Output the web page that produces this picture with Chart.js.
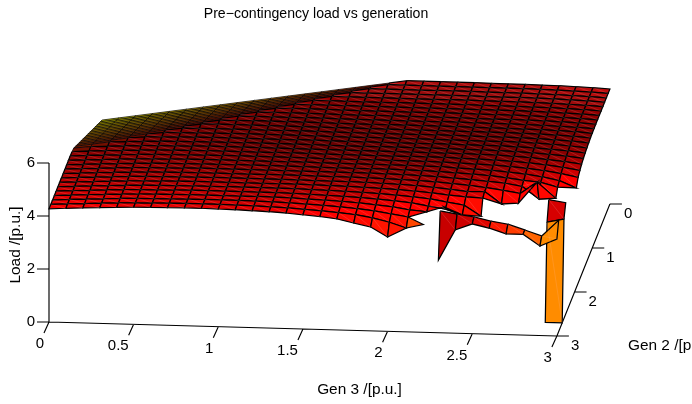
<!DOCTYPE html>
<html><head><meta charset="utf-8">
<style>html,body{margin:0;padding:0;background:#fff}canvas{display:block}</style>
<script src="https://cdn.jsdelivr.net/npm/chart.js@4"></script></head>
<body><canvas id="c" width="692" height="404"></canvas>
<script>
const chartTitle = "Pre\u2212contingency load vs generation";
const gen3Values = [0,0.1,0.2,0.3,0.4,0.5,0.6,0.7,0.8,0.9,1,1.1,1.2,1.3,1.4,1.5,1.6,1.7,1.8,1.9,2,2.1,2.2,2.3,2.4,2.5,2.6,2.7,2.8,2.9,3];
const gen2Values = [0,0.1,0.2,0.3,0.4,0.5,0.6,0.7,0.8,0.9,1,1.1,1.2,1.3,1.4,1.5,1.6,1.7,1.8,1.9,2,2.1,2.2,2.3,2.4,2.5,2.6,2.7,2.8,2.9,3];
const gen3Ticks = [0,0.5,1,1.5,2,2.5,3];
const gen2Ticks = [0,1,2,3];
const loadTicks = [0,2,4,6];
const gen3Label = "Gen 3 /[p.u.]", gen2Label = "Gen 2 /[p.u.]", loadLabel = "Load /[p.u.]";
const load00=[2.64,2.74,2.84,2.94,3.04,3.14,3.24,3.34,3.44,3.54,3.64,3.74,3.84,3.94,4.04,4.14,4.24,4.34,4.44,4.44,4.44,4.44,4.44,4.43,4.43,4.43,4.42,4.41,4.39,4.37,4.34];
const load01=[2.74,2.84,2.94,3.04,3.14,3.24,3.34,3.44,3.54,3.64,3.74,3.84,3.94,4.04,4.14,4.24,4.34,4.44,4.44,4.44,4.44,4.44,4.44,4.43,4.43,4.43,4.42,4.41,4.39,4.37,4.34];
const load02=[2.84,2.94,3.04,3.14,3.24,3.34,3.44,3.54,3.64,3.74,3.84,3.94,4.04,4.14,4.24,4.34,4.44,4.44,4.44,4.44,4.44,4.44,4.44,4.43,4.43,4.43,4.42,4.41,4.39,4.37,4.34];
const load03=[2.94,3.04,3.14,3.24,3.34,3.44,3.54,3.64,3.74,3.84,3.94,4.04,4.14,4.24,4.34,4.44,4.44,4.44,4.44,4.44,4.44,4.44,4.44,4.43,4.43,4.43,4.42,4.41,4.39,4.37,4.34];
const load04=[3.04,3.14,3.24,3.34,3.44,3.54,3.64,3.74,3.84,3.94,4.04,4.14,4.24,4.34,4.44,4.44,4.44,4.44,4.44,4.44,4.44,4.44,4.44,4.43,4.43,4.43,4.42,4.41,4.39,4.37,4.34];
const load05=[3.14,3.24,3.34,3.44,3.54,3.64,3.74,3.84,3.94,4.04,4.14,4.24,4.34,4.44,4.45,4.44,4.44,4.44,4.44,4.44,4.44,4.44,4.44,4.43,4.43,4.43,4.42,4.41,4.39,4.37,4.34];
const load06=[3.24,3.34,3.44,3.54,3.64,3.74,3.84,3.94,4.04,4.14,4.24,4.34,4.44,4.45,4.45,4.44,4.44,4.44,4.44,4.44,4.44,4.44,4.44,4.43,4.43,4.43,4.42,4.41,4.39,4.37,4.34];
const load07=[3.34,3.44,3.54,3.64,3.74,3.84,3.94,4.04,4.14,4.24,4.34,4.44,4.45,4.45,4.45,4.44,4.44,4.44,4.44,4.44,4.44,4.44,4.44,4.43,4.43,4.43,4.42,4.41,4.39,4.37,4.34];
const load08=[3.44,3.54,3.64,3.74,3.84,3.94,4.04,4.14,4.24,4.34,4.44,4.45,4.45,4.45,4.45,4.44,4.44,4.44,4.44,4.44,4.44,4.44,4.44,4.43,4.43,4.43,4.42,4.41,4.39,4.37,4.34];
const load09=[3.54,3.64,3.74,3.84,3.94,4.04,4.14,4.24,4.34,4.44,4.45,4.45,4.45,4.45,4.45,4.44,4.44,4.44,4.44,4.44,4.44,4.44,4.44,4.43,4.43,4.43,4.42,4.41,4.39,4.37,4.34];
const load10=[3.64,3.74,3.84,3.94,4.04,4.14,4.24,4.34,4.44,4.45,4.45,4.45,4.45,4.45,4.45,4.44,4.44,4.44,4.44,4.44,4.44,4.44,4.44,4.43,4.43,4.43,4.42,4.41,4.39,4.37,4.33];
const load11=[3.74,3.84,3.94,4.04,4.14,4.24,4.34,4.44,4.45,4.45,4.45,4.45,4.45,4.45,4.45,4.44,4.44,4.44,4.44,4.44,4.44,4.44,4.44,4.43,4.43,4.43,4.42,4.41,4.39,4.36,4.32];
const load12=[3.84,3.94,4.04,4.14,4.24,4.34,4.43,4.44,4.45,4.45,4.45,4.45,4.45,4.45,4.45,4.44,4.44,4.44,4.44,4.44,4.44,4.44,4.44,4.43,4.43,4.43,4.42,4.41,4.38,4.35,4.30];
const load13=[3.94,4.04,4.14,4.24,4.34,4.42,4.43,4.44,4.45,4.45,4.45,4.45,4.45,4.45,4.45,4.44,4.44,4.44,4.44,4.44,4.44,4.44,4.44,4.43,4.43,4.43,4.42,4.40,4.37,4.33,4.28];
const load14=[4.04,4.14,4.24,4.34,4.40,4.42,4.43,4.44,4.45,4.45,4.45,4.45,4.45,4.45,4.45,4.44,4.44,4.44,4.44,4.44,4.44,4.44,4.44,4.43,4.43,4.43,4.41,4.39,4.35,4.31,4.25];
const load15=[4.14,4.24,4.34,4.37,4.40,4.42,4.43,4.44,4.45,4.45,4.45,4.45,4.45,4.45,4.45,4.44,4.44,4.44,4.44,4.44,4.44,4.44,4.44,4.43,4.43,4.42,4.40,4.37,4.33,4.28,4.21];
const load16=[4.24,4.31,4.34,4.37,4.40,4.42,4.43,4.44,4.45,4.45,4.45,4.45,4.45,4.45,4.45,4.44,4.44,4.44,4.44,4.44,4.44,4.44,4.44,4.43,4.42,4.41,4.38,4.35,4.30,4.24,4.16];
const load17=[4.27,4.31,4.34,4.37,4.40,4.42,4.43,4.44,4.45,4.45,4.45,4.45,4.45,4.45,4.45,4.44,4.44,4.44,4.44,4.44,4.44,4.44,4.44,4.42,4.41,4.39,4.36,4.32,4.26,4.19,4.09];
const load18=[4.27,4.31,4.34,4.37,4.40,4.42,4.43,4.44,4.45,4.45,4.45,4.45,4.45,4.45,4.45,4.44,4.44,4.44,4.44,4.44,4.44,4.44,4.43,4.41,4.39,4.37,4.33,4.28,4.21,4.12,3.99];
const load19=[4.27,4.31,4.34,4.37,4.40,4.42,4.43,4.44,4.45,4.45,4.45,4.45,4.45,4.45,4.45,4.44,4.44,4.44,4.44,4.44,4.44,4.43,4.42,4.39,4.37,4.34,4.29,4.23,4.14,4.02,3.76];
const load20=[4.27,4.31,4.34,4.37,4.40,4.42,4.43,4.44,4.45,4.45,4.45,4.45,4.45,4.45,4.45,4.44,4.44,4.44,4.44,4.44,4.43,4.42,4.40,4.37,4.34,4.30,4.24,4.16,4.10,3.94,null];
const load21=[4.27,4.31,4.34,4.37,4.40,4.42,4.43,4.44,4.45,4.45,4.45,4.45,4.45,4.45,4.45,4.44,4.44,4.44,4.44,4.43,4.42,4.40,4.38,4.34,4.30,4.25,4.20,4.10,3.64,3.69,null];
const load22=[4.27,4.31,4.34,4.37,4.40,4.42,4.43,4.44,4.45,4.45,4.45,4.45,4.45,4.45,4.45,4.44,4.44,4.44,4.43,4.42,4.40,4.38,4.35,4.30,4.25,4.18,4.10,4.00,4.45,null,null];
const load23=[4.27,4.31,4.34,4.37,4.40,4.42,4.43,4.44,4.45,4.45,4.45,4.45,4.45,4.45,4.45,4.44,4.44,4.43,4.42,4.40,4.38,4.35,4.31,4.25,4.18,4.20,3.75,3.80,null,null,null];
const load24=[4.27,4.31,4.34,4.37,4.40,4.42,4.43,4.44,4.45,4.45,4.45,4.45,4.45,4.45,4.45,4.44,4.43,4.42,4.40,4.38,4.35,4.31,4.26,4.20,4.15,4.12,null,null,null,null,null];
const load25=[4.27,4.31,4.34,4.37,4.40,4.42,4.43,4.44,4.45,4.45,4.45,4.45,4.45,4.45,4.45,4.43,4.42,4.40,4.38,4.35,4.31,4.26,4.20,4.10,4.00,3.60,null,null,null,4.30,4.20];
const load26=[4.27,4.31,4.34,4.37,4.40,4.42,4.43,4.44,4.45,4.45,4.45,4.45,4.45,4.45,4.44,4.42,4.40,4.38,4.35,4.31,4.26,4.20,4.10,4.00,3.80,null,null,null,null,3.62,3.75];
const load27=[4.27,4.31,4.34,4.37,4.40,4.42,4.43,4.44,4.45,4.45,4.45,4.45,4.45,4.44,4.43,4.40,4.38,4.35,4.31,4.26,4.20,4.10,4.05,4.25,null,null,null,null,null,0,0];
const load28=[4.27,4.31,4.34,4.37,4.40,4.42,4.43,4.44,4.45,4.45,4.45,4.45,4.44,4.43,4.41,4.38,4.35,4.31,4.26,4.20,4.10,4.00,null,null,null,null,null,null,null,null,null];
const load29=[4.27,4.31,4.34,4.37,4.40,4.42,4.43,4.44,4.45,4.45,4.45,4.44,4.43,4.41,4.39,4.35,4.31,4.26,4.20,4.10,3.95,3.75,3.90,4.43,4.33,4.24,4.10,4.00,3.80,3.59,4.20];
const load30=[4.27,4.31,4.34,4.37,4.40,4.42,4.43,4.44,4.45,4.45,4.44,4.43,4.41,4.39,4.36,4.31,4.26,4.19,4.05,3.92,3.56,null,null,2.74,3.90,4.14,4.00,3.80,3.80,3.38,3.66];
const loadRows=[load00,load01,load02,load03,load04,load05,load06,load07,load08,load09,load10,load11,load12,load13,load14,load15,load16,load17,load18,load19,load20,load21,load22,load23,load24,load25,load26,load27,load28,load29,load30];

// view of the box: where one unit along each data axis lands on the page scales
const view = {ox:49, oy:322, g3x:169.3, g3y:4.67, g2x:17.67, g2y:-44, zy:-26.5};
function project(g3,g2,z){
  const back = 3-g2;
  return {x:view.ox+view.g3x*g3+view.g2x*back, y:view.oy+view.g3y*g3+view.g2y*back+view.zy*z};
}
const mix=(a,b,t)=>a.map((v,k)=>v+(b[k]-v)*t);
const depthShade=[225,175,130,105,105,125,170];
const bandShade={23:[200,0,0],24:[205,0,0],25:[225,5,0],26:[250,25,0],27:[255,60,0],28:[255,100,0],29:[255,140,0]};
function cellColour(i,j,zs){
  let c;
  const s=i+j;
  if(i===29&&bandShade[j]) c=bandShade[j];
  else if(i===26&&j===29) c=[255,140,0];
  else if(i===25&&j===29) c=[215,0,0];
  else if(i===28&&j===21) c=[255,70,0];
  else if(s<17){
    const t=s/17;
    c=t<0.55?mix([185,185,0],[150,90,0],t/0.55):mix([150,90,0],[110,5,0],(t-0.55)/0.45);
  }else{
    const f=(30-i)/5, k=Math.min(5,Math.floor(f));
    let r=depthShade[k]+(depthShade[k+1]-depthShade[k])*(f-k);
    r+=(j<8?0:(4.45-Math.min(...zs))*200)+Math.max(0,12-j)*2.5;
    c=[Math.min(255,r),Math.max(0,Math.min(30,(r-255)*0.15)),0];
    if(i<4) {c[1]=12;c[2]=12;}
  }
  return `rgb(${c.map(Math.round).join(",")})`;
}

const painted=[];
const seams=[];
const valid=(i,j)=>loadRows[i][j]!==null;
const pt=(i,j)=>project(gen3Values[j],gen2Values[i],loadRows[i][j]);
for(let i=0;i<gen2Values.length-1;i++){
  for(let j=0;j<gen3Values.length-1;j++){
    const corners=[[i,j],[i,j+1],[i+1,j+1],[i+1,j]];
    const ring=corners.filter(p=>valid(p[0],p[1]));
    if(ring.length<3||!valid(i+1,j)) continue;
    const pts=ring.map(p=>pt(p[0],p[1]));
    pts.push(pts[0]);
    const col=cellColour(i,j,ring.map(p=>loadRows[p[0]][p[1]]));
    painted.push({data:pts,showLine:true,pointRadius:0,borderColor:"#000",borderWidth:(i+j<17)?0.7:1.25,
      backgroundColor:col,fill:"shape",tension:0,clip:false,borderJoinStyle:"miter"});
    if(ring.length===4&&i+j>=17){seams.push(pt(i,j),pt(i+1,j+1),{x:NaN,y:NaN});}
  }
}
// axes, built from the tick arrays through the same projection
const axisPts=[];
const brk=()=>axisPts.push({x:NaN,y:NaN});
axisPts.push(project(0,3,0),project(3,3,0));brk();
axisPts.push(project(3,3,0),project(3,0,0));brk();
axisPts.push(project(0,3,0),project(0,3,6));brk();
const off=(p,dx,dy)=>({x:p.x+dx,y:p.y+dy});
gen3Ticks.forEach(t=>{const p=project(t,3,0);axisPts.push(p,off(p,-5,11));brk();});
gen2Ticks.forEach(t=>{const p=project(3,t,0);axisPts.push(p,off(p,12,0));brk();});
loadTicks.forEach(t=>{const p=project(0,3,t);axisPts.push(p,off(p,-12,0));brk();});
const axisSet={data:axisPts,showLine:true,pointRadius:0,borderColor:"#000",borderWidth:1.15,tension:0,clip:false,fill:false};
const seamSet={data:seams,showLine:true,pointRadius:0,borderColor:"rgba(255,190,190,0.16)",borderWidth:1,tension:0,clip:false,fill:false};
// first dataset is painted last
const datasets=[seamSet,...painted.slice().reverse(),axisSet];

const textPlugin={id:"boxText",afterDraw(chart){
  const {ctx,scales:{x,y}}=chart;
  const at=p=>({x:x.getPixelForValue(p.x),y:y.getPixelForValue(p.y)});
  ctx.save();
  ctx.fillStyle="#000";ctx.font='15px "Liberation Sans"';ctx.textBaseline="middle";
  ctx.textAlign="right";
  gen3Ticks.forEach(t=>{const p=at(project(t,3,0));ctx.fillText(String(t),p.x-5,p.y+22);});
  ctx.textAlign="left";
  gen2Ticks.forEach(t=>{const p=at(project(3,t,0));ctx.fillText(String(t),p.x+14,p.y+10);});
  ctx.textAlign="right";
  loadTicks.forEach(t=>{const p=at(project(0,3,t));ctx.fillText(String(t),p.x-14,p.y);});
  ctx.font='15.4px "Liberation Sans"';
  ctx.textAlign="center";
  ctx.fillText(gen3Label,359.5,390);
  ctx.textAlign="left";
  ctx.fillText(gen2Label,628,346);
  ctx.translate(16,245);ctx.rotate(-Math.PI/2);ctx.textAlign="center";
  ctx.fillText(loadLabel,0,0);
  ctx.restore();
}};

new Chart(document.getElementById("c"),{
  type:"scatter",
  data:{datasets},
  plugins:[textPlugin],
  options:{
    responsive:false,animation:false,events:[],
    layout:{padding:{left:0,right:60,top:0,bottom:0}},
    plugins:{
      legend:{display:false},tooltip:{enabled:false},
      title:{display:true,text:chartTitle,fullSize:false,color:"#000",
        font:{family:"Liberation Sans",size:14.1,weight:"normal",lineHeight:16/14.1},
        padding:{top:6,bottom:6}}
    },
    scales:{
      x:{type:"linear",min:0,max:632,display:false},
      y:{type:"linear",min:28,max:404,reverse:true,display:false}
    }
  }
});
</script></body></html>
